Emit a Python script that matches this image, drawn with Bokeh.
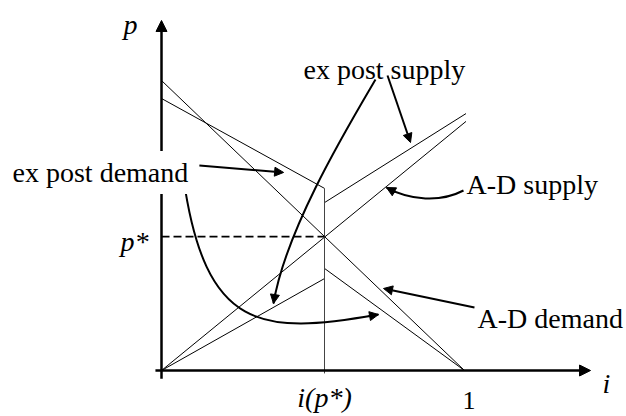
from bokeh.plotting import figure
from bokeh.models import Range1d, Arrow, NormalHead, Label
from bokeh.core.properties import value
from bokeh.embed import file_html
from bokeh.resources import INLINE

# ---- data (i on x, p on y) ----
i_star = 0.538
p_star = 0.462

ad_demand_i = [0.0, 1.0]
ad_demand_p = [1.0, 0.0]

ad_supply_i = [0.0, 1.005]
ad_supply_p = [0.0, 0.859]

expost_demand_hi_i = [0.0, i_star]
expost_demand_hi_p = [0.938, 0.628]
expost_demand_lo_i = [i_star, 1.0]
expost_demand_lo_p = [0.352, 0.0]

expost_supply_lo_i = [0.0, i_star]
expost_supply_lo_p = [0.0, 0.317]
expost_supply_hi_i = [i_star, 1.005]
expost_supply_hi_p = [0.579, 0.886]

x_tick_values = [i_star, 1.0]
x_tick_labels = ["i(p*)", "1"]
y_tick_values = [p_star]
y_tick_labels = ["p*"]

axis_labels = ["i", "p"]
callouts = ["ex post supply", "A-D supply", "A-D demand", "ex post demand"]

SERIF = "Liberation Serif"

p = figure(width=626, height=416, output_backend="svg", toolbar_location=None,
           x_range=Range1d(-0.5314, 1.5347), y_range=Range1d(-0.1586, 1.2759),
           min_border=0, outline_line_color=None)
p.axis.visible = False
p.grid.visible = False
p.background_fill_color = "white"
p.border_fill_color = "white"

thin = dict(line_color="black", line_width=1)

# curves
p.line(ad_demand_i, ad_demand_p, **thin)
p.line(ad_supply_i, ad_supply_p, **thin)
p.line(expost_demand_hi_i, expost_demand_hi_p, **thin)
p.line(expost_demand_lo_i, expost_demand_lo_p, **thin)
p.line(expost_supply_lo_i, expost_supply_lo_p, **thin)
p.line(expost_supply_hi_i, expost_supply_hi_p, **thin)

# vertical at i(p*) and dashed p* guide
p.line([i_star, i_star], [-0.01, expost_demand_hi_p[1]], line_color="#444444", line_width=1)
p.line([0.0, i_star], [p_star, p_star], line_color="black", line_width=1.8, line_dash="8 4")

# axes with arrowheads
p.add_layout(Arrow(end=NormalHead(size=11, fill_color="black", line_color="black"),
                   x_start=0, y_start=-0.028, x_end=0, y_end=1.207,
                   line_width=2.5, line_color="black"))
p.add_layout(Arrow(end=NormalHead(size=11, fill_color="black", line_color="black"),
                   x_start=-0.02, y_start=0, x_end=1.416, y_end=0,
                   line_width=2.5, line_color="black"))

# annotation arrows (straight)
def head():
    return NormalHead(size=9, fill_color="black", line_color="black")

p.add_layout(Arrow(end=head(), x_start=0.125, y_start=0.707, x_end=0.403, y_end=0.683,
                   line_width=2, line_color="black"))
p.add_layout(Arrow(end=head(), x_start=0.7459, y_start=1.0172, x_end=0.8218, y_end=0.7862,
                   line_width=2, line_color="black"))
p.add_layout(Arrow(end=head(), x_start=1.033, y_start=0.2172, x_end=0.7327, y_end=0.2828,
                   line_width=2, line_color="black"))

# curved annotation arrows
p.bezier(x0=[0.0726, 0.7063, 0.9967], y0=[0.662, 1.0034, 0.6207],
         x1=[0.7162, 0.3696, 0.7426], y1=[0.1931, 0.2310, 0.6310],
         cx0=[0.1452, 0.6073, 0.9208], cy0=[0.1379, 0.8276, 0.5793],
         cx1=[0.3267, 0.4092, 0.8218], cy1=[0.1207, 0.4828, 0.5862],
         line_color="black", line_width=2)
p.add_layout(Arrow(end=head(), x_start=0.6832, y_start=0.1869, x_end=0.7162, y_end=0.1931,
                   line_width=2, line_color="black"))
p.add_layout(Arrow(end=head(), x_start=0.3749, y_start=0.2652, x_end=0.3696, y_end=0.2310,
                   line_width=2, line_color="black"))
p.add_layout(Arrow(end=head(), x_start=0.7716, y_start=0.6145, x_end=0.7426, y_end=0.6310,
                   line_width=2, line_color="black"))

# callout texts
fs = "28px"
p.text(x=[0.4686], y=[1.0379], text=[callouts[0]], text_font=value(SERIF),
       text_font_size=fs, text_baseline="alphabetic", text_align="left", text_color="black")
p.text(x=[1.0066], y=[0.6414], text=[callouts[1]], text_font=value(SERIF),
       text_font_size=fs, text_baseline="alphabetic", text_align="left", text_color="black")
p.text(x=[1.0429], y=[0.1793], text=[callouts[2]], text_font=value(SERIF),
       text_font_size=fs, text_baseline="alphabetic", text_align="left", text_color="black")
p.add_layout(Label(x=-0.5115, y=0.6828, text=callouts[3], text_font=SERIF,
                   text_font_size=fs, text_baseline="alphabetic", text_align="left",
                   text_color="black", background_fill_color="white", padding=6))

# axis labels and tick labels
lfs = "28px"
p.text(x=[1.4554], y=[-0.045], text=[axis_labels[0]], text_font=value(SERIF),
       text_font_size=lfs, text_font_style="italic", text_baseline="alphabetic",
       text_align="left", text_color="black")
p.text(x=[-0.1254], y=[1.1931], text=[axis_labels[1]], text_font=value(SERIF),
       text_font_size=lfs, text_font_style="italic", text_baseline="alphabetic",
       text_align="left", text_color="black")
p.text(x=[x_tick_values[0]], y=[-0.0931], text=[x_tick_labels[0]], text_font=value(SERIF),
       text_font_size=lfs, text_font_style="italic", text_baseline="alphabetic",
       text_align="center", text_color="black")
p.text(x=[x_tick_values[1] + 0.015], y=[-0.1034], text=[x_tick_labels[1]], text_font=value(SERIF),
       text_font_size="26px", text_baseline="alphabetic", text_align="center", text_color="black")
p.text(x=[-0.043], y=[y_tick_values[0] - 0.017], text=[y_tick_labels[0]], text_font=value(SERIF),
       text_font_size=lfs, text_font_style="italic", text_baseline="alphabetic",
       text_align="right", text_color="black")

open("out.html", "w").write(file_html(p, INLINE))
